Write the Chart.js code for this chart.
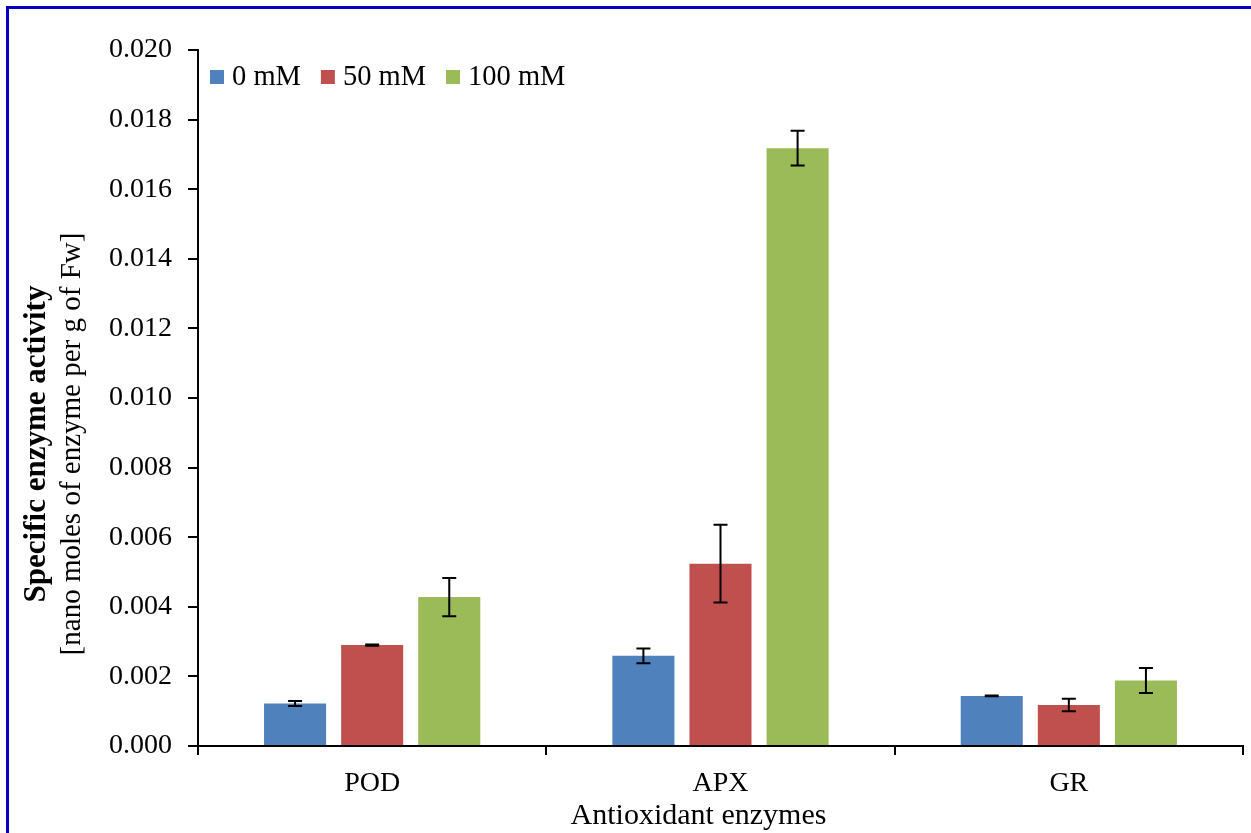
<!DOCTYPE html>
<html>
<head>
<meta charset="utf-8">
<script src="https://cdn.jsdelivr.net/npm/chart.js@4"></script>
<style>
  html, body { margin: 0; padding: 0; background: #fff; }
  #wrap { width: 1251px; height: 833px; position: relative; }
</style>
</head>
<body>
<div id="wrap"><canvas id="grafico"></canvas></div>
<script>
const enzimas = ['POD', 'APX', 'GR'];
const series = ['0 mM', '50 mM', '100 mM'];
const cores = ['#4f81bd', '#c0504d', '#9bbb59'];
const valores0 = [0.00122, 0.00259, 0.00144];
const valores50 = [0.00290, 0.00524, 0.00118];
const valores100 = [0.00428, 0.01718, 0.00188];
const erros0 = [0.00007, 0.00021, 0.00001];
const erros50 = [0.00002, 0.00112, 0.00018];
const erros100 = [0.00055, 0.00050, 0.00036];
const ticksY = [0, 0.002, 0.004, 0.006, 0.008, 0.010, 0.012, 0.014, 0.016, 0.018, 0.020];

const fonte = "'Liberation Serif', 'DejaVu Serif', serif";

// error bars from the y scale
const barrasErro = {
  id: 'barrasErro',
  afterDatasetsDraw(chart) {
    const ctx = chart.ctx;
    const y = chart.scales.y;
    ctx.save();
    ctx.strokeStyle = '#000';
    ctx.lineWidth = 2;
    chart.data.datasets.forEach((ds, i) => {
      const meta = chart.getDatasetMeta(i);
      meta.data.forEach((bar, j) => {
        const v = ds.data[j], e = ds.erros[j];
        const y1 = y.getPixelForValue(v + e);
        const y2 = y.getPixelForValue(v - e);
        ctx.beginPath();
        ctx.moveTo(bar.x, y1); ctx.lineTo(bar.x, y2);
        ctx.moveTo(bar.x - 7, y1); ctx.lineTo(bar.x + 7, y1);
        ctx.moveTo(bar.x - 7, y2); ctx.lineTo(bar.x + 7, y2);
        ctx.stroke();
      });
    });
    ctx.restore();
  }
};

// legend in one row, titles, blue frame
const extras = {
  id: 'extras',
  afterDraw(chart) {
    const ctx = chart.ctx;
    const a = chart.chartArea;
    ctx.save();
    ctx.fillStyle = '#0000c4';
    ctx.fillRect(6, 6, chart.width - 6, 3);
    ctx.fillRect(6, 6, 3, chart.height - 6);

    // legenda
    ctx.font = '28.5px ' + fonte;
    ctx.textBaseline = 'middle';
    ctx.textAlign = 'left';
    let lx = a.left + 12;
    const ly = a.top + 27;
    chart.data.datasets.forEach(ds => {
      ctx.fillStyle = ds.backgroundColor;
      ctx.fillRect(lx, ly - 7, 14, 14);
      ctx.fillStyle = '#000';
      ctx.fillText(ds.label, lx + 22, ly + 1);
      lx += 22 + ctx.measureText(ds.label).width + 20;
    });

    // titulo x
    ctx.textAlign = 'center';
    ctx.font = '30px ' + fonte;
    ctx.fillText('Antioxidant enzymes', (a.left + a.right) / 2 - 22, 816);

    // titulo y
    const meio = (a.top + a.bottom) / 2 + 46;
    ctx.translate(0, meio);
    ctx.rotate(-Math.PI / 2);
    ctx.font = 'bold 31px ' + fonte;
    ctx.fillText('Specific enzyme activity', 0, 37);
    ctx.font = '29px ' + fonte;
    ctx.fillText('[nano moles of enzyme per g of Fw]', 0, 72);
    ctx.restore();
  }
};

const dados = [valores0, valores50, valores100];
const erros = [erros0, erros50, erros100];

new Chart(document.getElementById('grafico'), {
  type: 'bar',
  data: {
    labels: enzimas,
    datasets: series.map((s, i) => ({
      label: s,
      data: dados[i],
      erros: erros[i],
      backgroundColor: cores[i],
      borderWidth: 0,
      barPercentage: 0.805,
      categoryPercentage: 0.664
    }))
  },
  options: {
    responsive: true,
    maintainAspectRatio: false,
    animation: false,
    layout: { padding: { top: 50, right: 8, left: 0, bottom: 0 } },
    plugins: {
      tooltip: { enabled: false },
      legend: { display: false }
    },
    scales: {
      x: {
        grid: { drawOnChartArea: false, color: '#000', lineWidth: 2, tickLength: 9 },
        border: { color: '#000', width: 2 },
        ticks: { color: '#000', padding: 12, font: { family: fonte, size: 28 } },
        afterFit(scale) { scale.height = 87; }
      },
      y: {
        min: 0,
        max: 0.02,
        afterBuildTicks(scale) { scale.ticks = ticksY.map(v => ({ value: v })); },
        grid: { drawOnChartArea: false, color: '#000', lineWidth: 2, tickLength: 10 },
        border: { color: '#000', width: 2 },
        ticks: {
          color: '#000',
          padding: 16,
          font: { family: fonte, size: 28 },
          callback: v => v.toFixed(3)
        },
        afterFit(scale) { scale.width = 198; }
      }
    }
  },
  plugins: [barrasErro, extras]
});
</script>
</body>
</html>
